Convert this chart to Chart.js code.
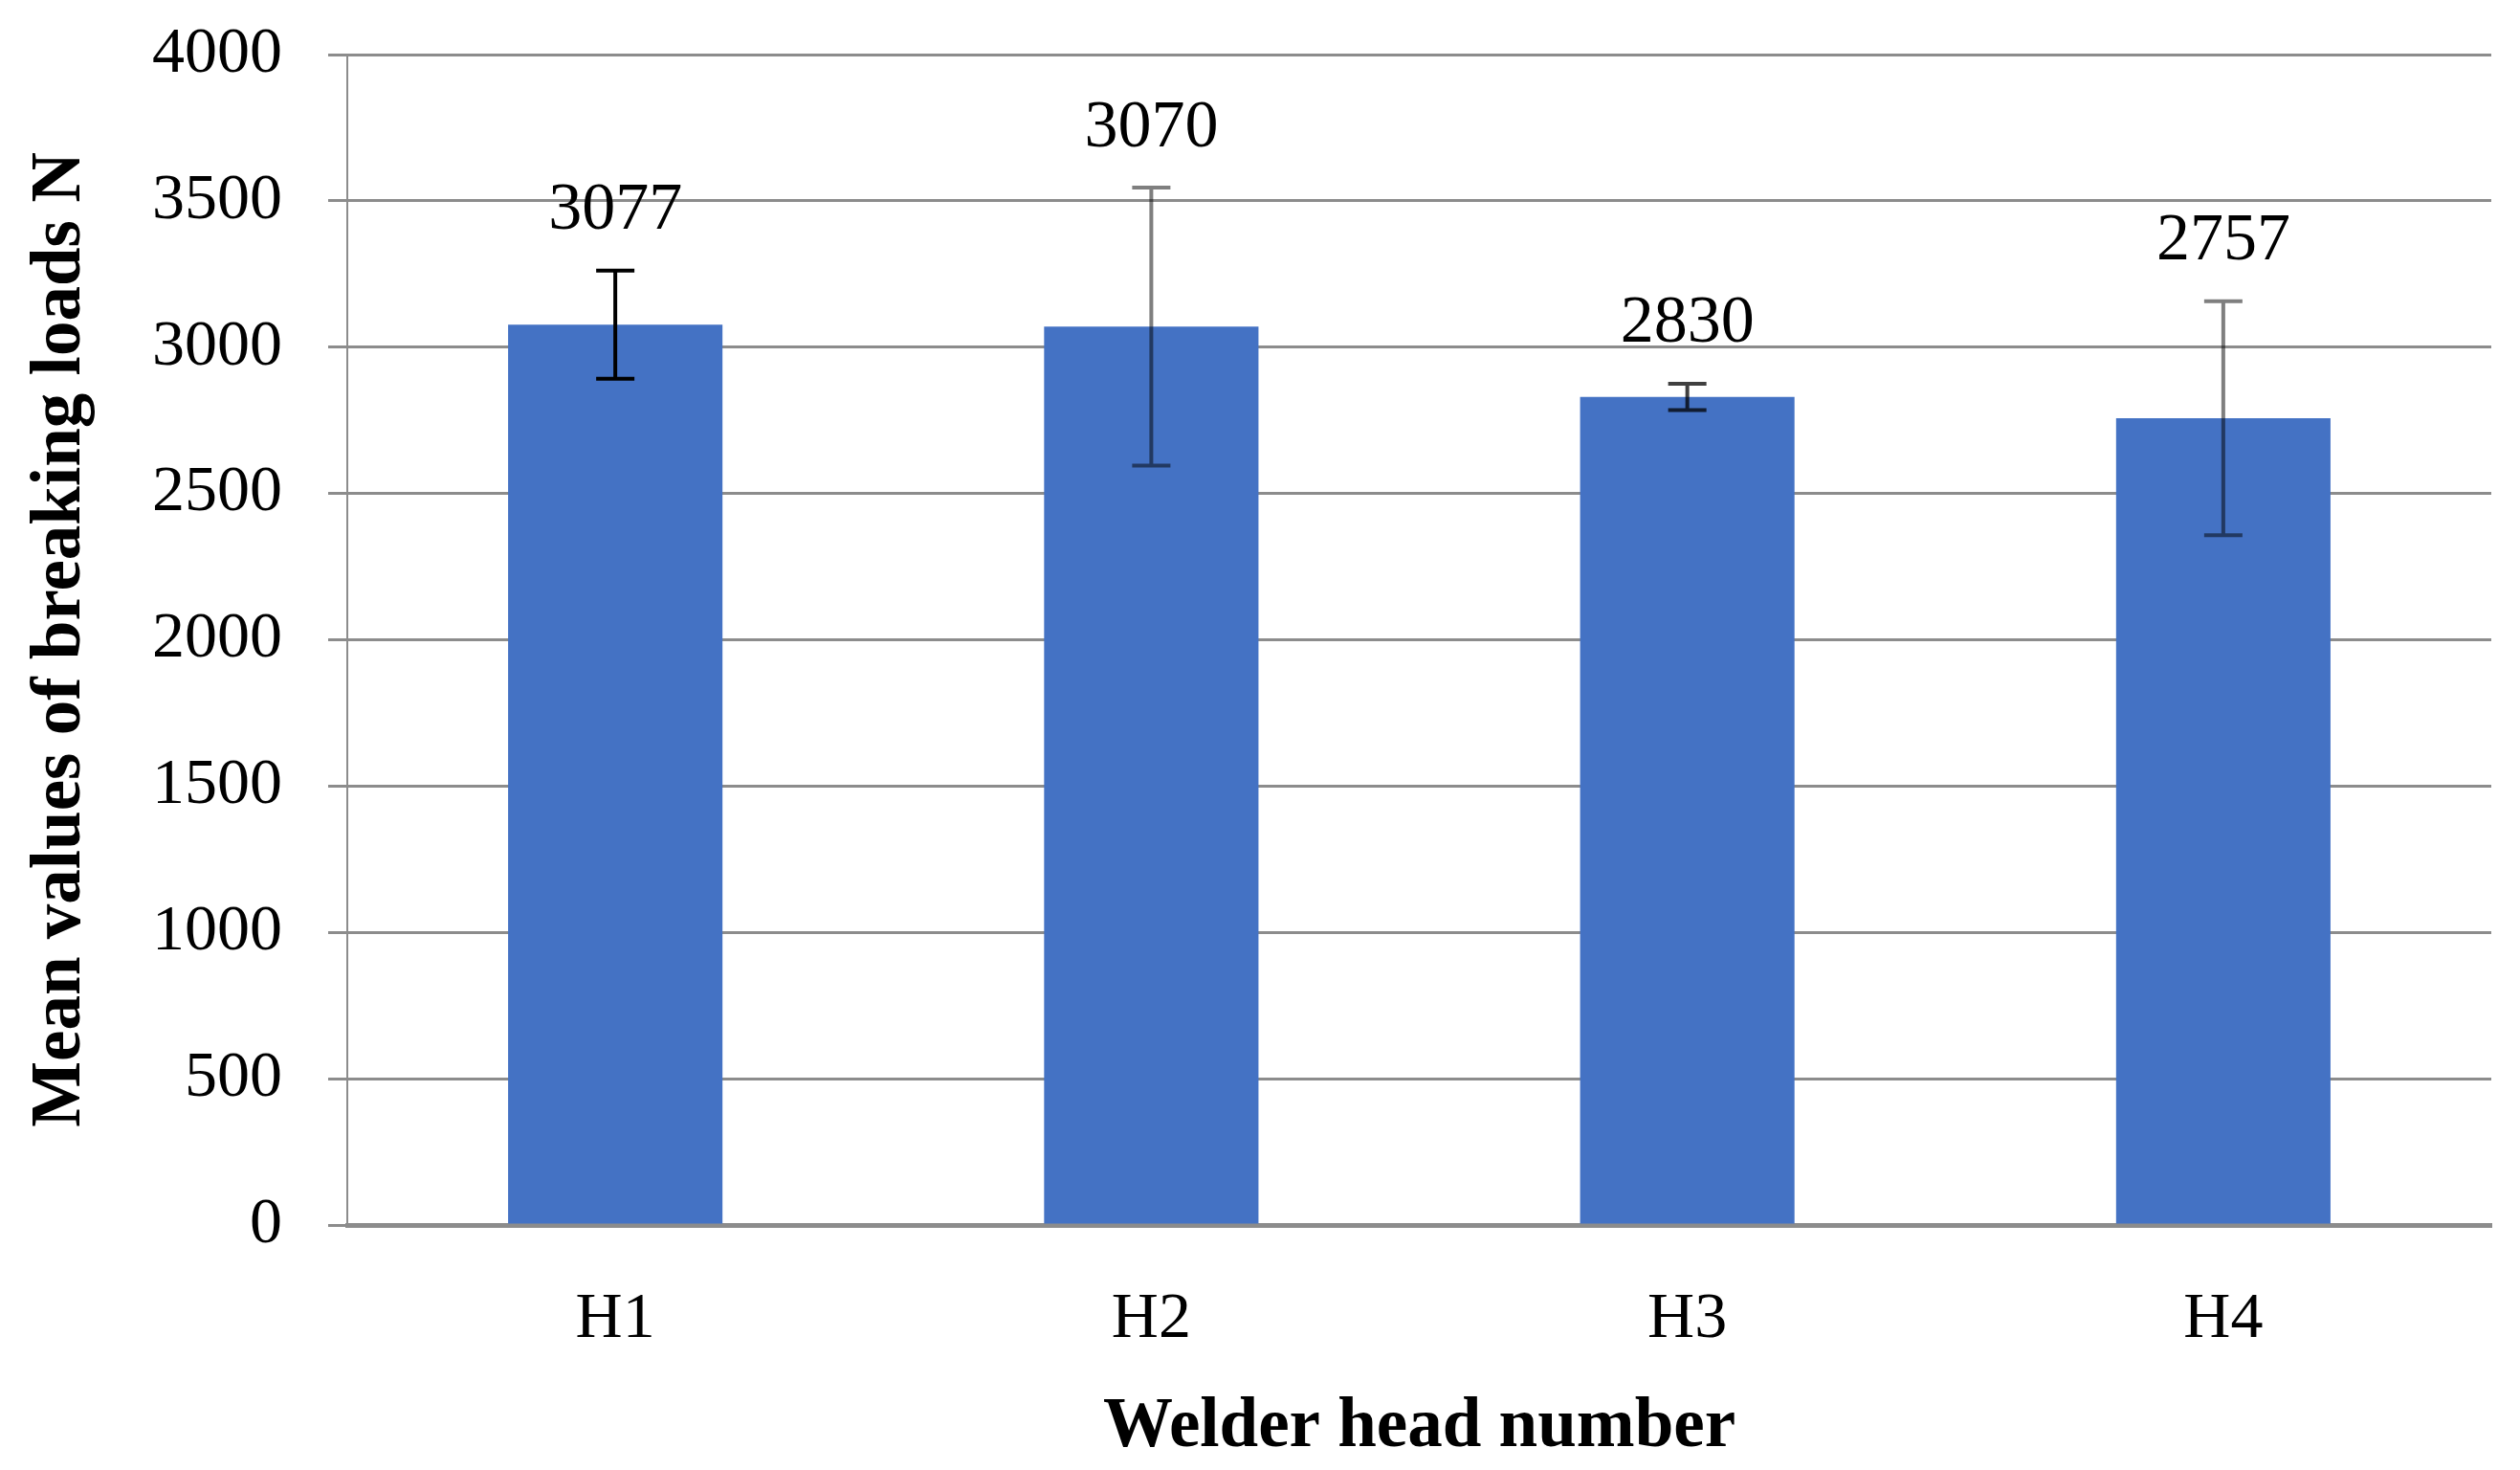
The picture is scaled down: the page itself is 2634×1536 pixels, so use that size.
<!DOCTYPE html>
<html>
<head>
<meta charset="utf-8">
<script src="https://cdn.jsdelivr.net/npm/chart.js@4.4.1/dist/chart.umd.min.js"></script>
<style>
  html, body { margin: 0; padding: 0; background: #fff; }
  #chart { display: block; }
</style>
</head>
<body>
<canvas id="chart" width="2634" height="1536"></canvas>
<script>
// Data
const heads = ['H1', 'H2', 'H3', 'H4'];
const meanLoads = [3077, 3070, 2830, 2757];
const loadErrors = [185, 475, 45, 400];
const yTicks = [0, 500, 1000, 1500, 2000, 2500, 3000, 3500, 4000];

const errorColors = ['#000000', 'rgba(0,0,0,0.5)', 'rgba(0,0,0,0.75)', 'rgba(0,0,0,0.5)'];

// Error bars + value labels above them
const errorBarPlugin = {
  id: 'errorBars',
  afterDatasetsDraw(chart) {
    const ctx = chart.ctx;
    const y = chart.scales.y;
    const meta = chart.getDatasetMeta(0);
    meta.data.forEach((bar, i) => {
      const top = y.getPixelForValue(meanLoads[i] + loadErrors[i]);
      const bottom = y.getPixelForValue(meanLoads[i] - loadErrors[i]);
      const cap = 20;
      ctx.save();
      ctx.strokeStyle = errorColors[i];
      ctx.lineWidth = 4;
      ctx.beginPath();
      ctx.moveTo(bar.x, top);
      ctx.lineTo(bar.x, bottom);
      ctx.moveTo(bar.x - cap, top);
      ctx.lineTo(bar.x + cap, top);
      ctx.moveTo(bar.x - cap, bottom);
      ctx.lineTo(bar.x + cap, bottom);
      ctx.stroke();

      ctx.fillStyle = '#000';
      ctx.font = '70px "Liberation Serif"';
      ctx.textAlign = 'center';
      ctx.textBaseline = 'middle';
      ctx.fillText(String(meanLoads[i]), bar.x, top - 62);
      ctx.restore();
    });
  }
};

const ctx = document.getElementById('chart').getContext('2d');
new Chart(ctx, {
  type: 'bar',
  data: {
    labels: heads,
    datasets: [{
      label: 'Mean values of breaking loads N',
      data: meanLoads,
      backgroundColor: '#4472C4',
      borderWidth: 0,
      categoryPercentage: 1.0,
      barPercentage: 0.4
    }]
  },
  options: {
    responsive: false,
    animation: false,
    layout: { padding: { top: 57, right: 30, left: 0, bottom: 0 } },
    plugins: {
      legend: { display: false },
      tooltip: { enabled: false }
    },
    scales: {
      x: {
        afterFit: s => { s.height = 256; s.paddingLeft = 0; s.paddingRight = 0; },
        grid: { display: false, drawTicks: false },
        border: { color: '#8c8c8c', width: 5 },
        ticks: {
          padding: 58,
          color: '#000',
          font: { family: 'Liberation Serif', size: 68 }
        },
        title: {
          display: true,
          text: 'Welder head number',
          color: '#000',
          padding: { top: 30, bottom: 0 },
          font: { family: 'Liberation Serif', size: 73, weight: 'bold' }
        }
      },
      y: {
        min: 0,
        max: 4000,
        afterFit: s => { s.width = 363; s.paddingTop = 0; s.paddingBottom = 0; },
        afterBuildTicks: s => { s.ticks = yTicks.map(v => ({ value: v })); },
        grid: { color: '#8c8c8c', lineWidth: 3, tickLength: 20 },
        border: { color: '#8c8c8c', width: 2 },
        ticks: {
          padding: 48,
          color: '#000',
          font: { family: 'Liberation Serif', size: 68 },
          callback: v => String(v)
        },
        title: {
          display: true,
          text: 'Mean values of breaking loads N',
          color: '#000',
          padding: { top: 20, bottom: 0 },
          font: { family: 'Liberation Serif', size: 73, weight: 'bold' }
        }
      }
    }
  },
  plugins: [errorBarPlugin]
});
</script>
</body>
</html>
